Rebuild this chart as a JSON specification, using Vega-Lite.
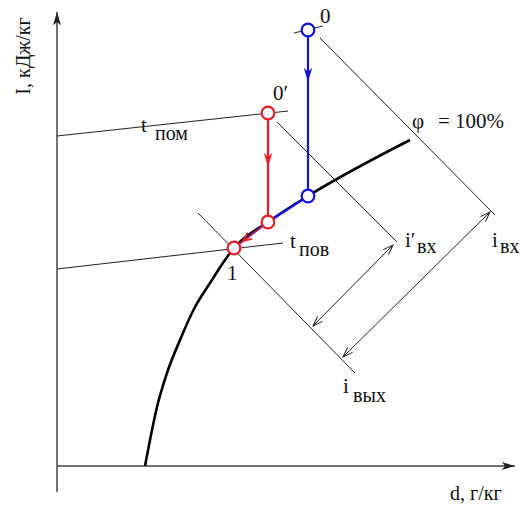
{
  "$schema": "https://vega.github.io/schema/vega-lite/v6.json",
  "width": 522,
  "height": 511,
  "autosize": {"type": "fit", "contains": "padding"},
  "padding": 0,
  "background": "white",
  "config": {"view": {"stroke": null}},
  "datasets": {
    "axes": [
      {"d": 0, "I": 454, "d2": 0, "I2": -26},
      {"d": 0, "I": 0, "d2": 458, "I2": 0}
    ],
    "thin": [
      {"name": "t_pom", "d": 0, "I": 330, "d2": 231, "I2": 355},
      {"name": "tick0", "d": 237, "I": 433, "d2": 266, "I2": 440},
      {"name": "t_pov", "d": 0, "I": 197, "d2": 226, "I2": 223},
      {"name": "i_vx", "d": 263, "I": 428, "d2": 438, "I2": 251},
      {"name": "i_vx_p", "d": 220, "I": 344, "d2": 340, "I2": 224},
      {"name": "i_vyx", "d": 141, "I": 253, "d2": 298, "I2": 93},
      {"name": "dim_p", "d": 256, "I": 140, "d2": 336, "I2": 221},
      {"name": "dim", "d": 286, "I": 109, "d2": 433, "I2": 254}
    ],
    "saturation": [
      {"k": 0, "d": 88, "I": 0},
      {"k": 1, "d": 93, "I": 26},
      {"k": 2, "d": 100, "I": 59},
      {"k": 3, "d": 110, "I": 93},
      {"k": 4, "d": 123, "I": 126},
      {"k": 5, "d": 138, "I": 159},
      {"k": 6, "d": 153, "I": 183},
      {"k": 7, "d": 168, "I": 206},
      {"k": 8, "d": 177, "I": 218},
      {"k": 9, "d": 211, "I": 244},
      {"k": 10, "d": 251, "I": 270},
      {"k": 11, "d": 353, "I": 326}
    ],
    "process": [
      {"c": "blue", "d": 251, "I": 436, "d2": 251, "I2": 270},
      {"c": "blue", "d": 251, "I": 270, "d2": 211, "I2": 244},
      {"c": "red", "d": 211, "I": 353, "d2": 211, "I2": 244},
      {"c": "purple", "d": 211, "I": 244, "d2": 177, "I2": 218}
    ],
    "states": [
      {"c": "blue", "d": 251, "I": 436},
      {"c": "red", "d": 211, "I": 353},
      {"c": "blue", "d": 251, "I": 270},
      {"c": "red", "d": 211, "I": 244},
      {"c": "red", "d": 177, "I": 218}
    ],
    "flow_arrows": [
      {"c": "blue", "d": 251, "I": 384, "a": 180},
      {"c": "red", "d": 211, "I": 299, "a": 180}
    ],
    "open_arrows": [
      {"d": 336, "I": 221, "a": 45},
      {"d": 256, "I": 140, "a": 225},
      {"d": 433, "I": 254, "a": 45},
      {"d": 286, "I": 109, "a": 225}
    ],
    "axis_arrows": [
      {"d": 0, "I": 454, "a": 0},
      {"d": 458, "I": 0, "a": 90}
    ],
    "main_labels": [
      {"t": "t", "d": 84, "I": 334},
      {"t": "0", "d": 263, "I": 443},
      {"t": "0′", "d": 216, "I": 366},
      {"t": "φ", "d": 355, "I": 338},
      {"t": "= 100%", "d": 381, "I": 338},
      {"t": "t", "d": 233, "I": 218},
      {"t": "1", "d": 170, "I": 186},
      {"t": "i′", "d": 348, "I": 219},
      {"t": "i", "d": 435, "I": 219},
      {"t": "i", "d": 286, "I": 73}
    ],
    "sub_labels": [
      {"t": "пом", "d": 98, "I": 326},
      {"t": "пов", "d": 242, "I": 210},
      {"t": "вх", "d": 360, "I": 213},
      {"t": "вх", "d": 443, "I": 213},
      {"t": "вых", "d": 296, "I": 64}
    ]
  },
  "layer": [
    {
      "data": {"name": "axes"},
      "mark": {"type": "rule", "color": "#444", "strokeWidth": 1.5},
      "encoding": {
        "x": {"field": "d", "type": "quantitative", "scale": {"domain": [-57, 465], "nice": false, "zero": false}, "axis": null},
        "y": {"field": "I", "type": "quantitative", "scale": {"domain": [-45, 466], "nice": false, "zero": false}, "axis": null},
        "x2": {"field": "d2"},
        "y2": {"field": "I2"}
      }
    },
    {
      "data": {"name": "axis_arrows"},
      "mark": {"type": "point", "shape": "M0,0 L-0.3,1 L0,0.75 L0.3,1 Z", "filled": true, "color": "#222", "size": 700, "opacity": 1},
      "encoding": {
        "x": {"field": "d", "type": "quantitative", "scale": {"domain": [-57, 465], "nice": false, "zero": false}, "axis": null},
        "y": {"field": "I", "type": "quantitative", "scale": {"domain": [-45, 466], "nice": false, "zero": false}, "axis": null},
        "angle": {"field": "a", "type": "quantitative", "scale": null}
      }
    },
    {
      "data": {"name": "thin"},
      "mark": {"type": "rule", "color": "#222", "strokeWidth": 1},
      "encoding": {
        "x": {"field": "d", "type": "quantitative", "scale": {"domain": [-57, 465], "nice": false, "zero": false}, "axis": null},
        "y": {"field": "I", "type": "quantitative", "scale": {"domain": [-45, 466], "nice": false, "zero": false}, "axis": null},
        "x2": {"field": "d2"},
        "y2": {"field": "I2"}
      }
    },
    {
      "data": {"name": "open_arrows"},
      "mark": {"type": "point", "shape": "M-0.35,1 L0,0 L0.35,1", "filled": false, "stroke": "#222", "strokeWidth": 1, "size": 400, "opacity": 1},
      "encoding": {
        "x": {"field": "d", "type": "quantitative", "scale": {"domain": [-57, 465], "nice": false, "zero": false}, "axis": null},
        "y": {"field": "I", "type": "quantitative", "scale": {"domain": [-45, 466], "nice": false, "zero": false}, "axis": null},
        "angle": {"field": "a", "type": "quantitative", "scale": null}
      }
    },
    {
      "data": {"name": "saturation"},
      "mark": {"type": "line", "color": "#000", "strokeWidth": 2.6, "interpolate": "monotone"},
      "encoding": {
        "x": {"field": "d", "type": "quantitative", "scale": {"domain": [-57, 465], "nice": false, "zero": false}, "axis": null},
        "y": {"field": "I", "type": "quantitative", "scale": {"domain": [-45, 466], "nice": false, "zero": false}, "axis": null},
        "order": {"field": "k"}
      }
    },
    {
      "data": {"name": "process"},
      "mark": {"type": "rule", "strokeWidth": 2.2},
      "encoding": {
        "x": {"field": "d", "type": "quantitative", "scale": {"domain": [-57, 465], "nice": false, "zero": false}, "axis": null},
        "y": {"field": "I", "type": "quantitative", "scale": {"domain": [-45, 466], "nice": false, "zero": false}, "axis": null},
        "x2": {"field": "d2"},
        "y2": {"field": "I2"},
        "color": {"field": "c", "type": "nominal", "scale": {"domain": ["blue", "red", "purple"], "range": ["#1212e0", "#ec1c24", "#9a1a78"]}, "legend": null}
      }
    },
    {
      "data": {"name": "flow_arrows"},
      "mark": {"type": "point", "shape": "M0,0 L-0.3,1 L0,0.7 L0.3,1 Z", "filled": true, "size": 800, "opacity": 1},
      "encoding": {
        "x": {"field": "d", "type": "quantitative", "scale": {"domain": [-57, 465], "nice": false, "zero": false}, "axis": null},
        "y": {"field": "I", "type": "quantitative", "scale": {"domain": [-45, 466], "nice": false, "zero": false}, "axis": null},
        "angle": {"field": "a", "type": "quantitative", "scale": null},
        "color": {"field": "c", "type": "nominal", "scale": {"domain": ["blue", "red", "purple"], "range": ["#1212e0", "#ec1c24", "#9a1a78"]}, "legend": null}
      }
    },
    {
      "data": {"values": [{"d": 186, "I": 225, "a": 233}]},
      "mark": {"type": "point", "shape": "M-0.45,1 L0,0 L0.45,1", "filled": false, "stroke": "#ec1c24", "strokeWidth": 1.8, "size": 300, "opacity": 1},
      "encoding": {
        "x": {"field": "d", "type": "quantitative", "scale": {"domain": [-57, 465], "nice": false, "zero": false}, "axis": null},
        "y": {"field": "I", "type": "quantitative", "scale": {"domain": [-45, 466], "nice": false, "zero": false}, "axis": null},
        "angle": {"field": "a", "type": "quantitative", "scale": null}
      }
    },
    {
      "data": {"name": "states"},
      "mark": {"type": "point", "shape": "circle", "filled": false, "fill": "white", "fillOpacity": 1, "strokeWidth": 2.2, "size": 160, "opacity": 1},
      "encoding": {
        "x": {"field": "d", "type": "quantitative", "scale": {"domain": [-57, 465], "nice": false, "zero": false}, "axis": null},
        "y": {"field": "I", "type": "quantitative", "scale": {"domain": [-45, 466], "nice": false, "zero": false}, "axis": null},
        "stroke": {"field": "c", "type": "nominal", "scale": {"domain": ["blue", "red", "purple"], "range": ["#1212e0", "#ec1c24", "#9a1a78"]}, "legend": null}
      }
    },
    {
      "data": {"name": "main_labels"},
      "mark": {"type": "text", "font": "Liberation Serif", "color": "#111", "fontSize": 21, "align": "left", "baseline": "alphabetic"},
      "encoding": {
        "x": {"field": "d", "type": "quantitative", "scale": {"domain": [-57, 465], "nice": false, "zero": false}, "axis": null},
        "y": {"field": "I", "type": "quantitative", "scale": {"domain": [-45, 466], "nice": false, "zero": false}, "axis": null},
        "text": {"field": "t"}
      }
    },
    {
      "data": {"name": "sub_labels"},
      "mark": {"type": "text", "font": "Liberation Serif", "color": "#111", "fontSize": 20, "align": "left", "baseline": "alphabetic"},
      "encoding": {
        "x": {"field": "d", "type": "quantitative", "scale": {"domain": [-57, 465], "nice": false, "zero": false}, "axis": null},
        "y": {"field": "I", "type": "quantitative", "scale": {"domain": [-45, 466], "nice": false, "zero": false}, "axis": null},
        "text": {"field": "t"}
      }
    },
    {
      "data": {"values": [{"t": "I, кДж/кг", "d": -33, "I": 410}]},
      "mark": {"type": "text", "font": "Liberation Serif", "color": "#111", "fontSize": 20, "align": "center", "baseline": "middle", "angle": 270},
      "encoding": {
        "x": {"field": "d", "type": "quantitative", "scale": {"domain": [-57, 465], "nice": false, "zero": false}, "axis": null},
        "y": {"field": "I", "type": "quantitative", "scale": {"domain": [-45, 466], "nice": false, "zero": false}, "axis": null},
        "text": {"field": "t"}
      }
    },
    {
      "data": {"values": [{"t": "d, г/кг", "d": 393, "I": -34}]},
      "mark": {"type": "text", "font": "Liberation Serif", "color": "#111", "fontSize": 20, "align": "left", "baseline": "alphabetic"},
      "encoding": {
        "x": {"field": "d", "type": "quantitative", "scale": {"domain": [-57, 465], "nice": false, "zero": false}, "axis": null},
        "y": {"field": "I", "type": "quantitative", "scale": {"domain": [-45, 466], "nice": false, "zero": false}, "axis": null},
        "text": {"field": "t"}
      }
    }
  ]
}
